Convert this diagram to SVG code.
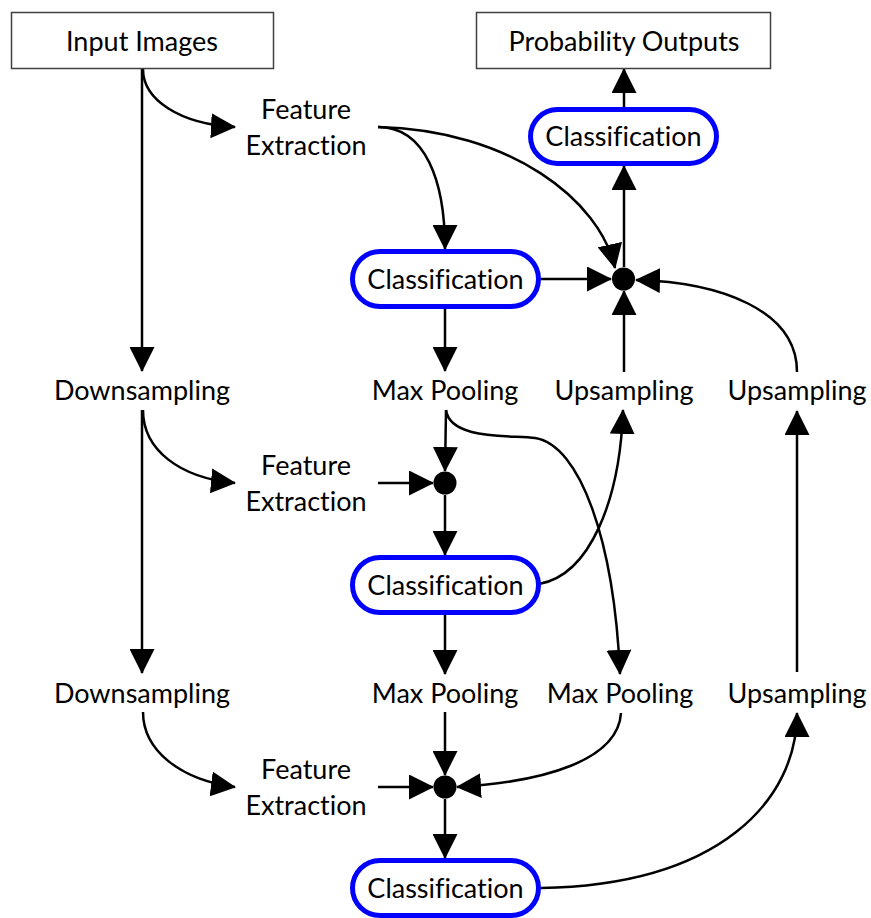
<svg xmlns="http://www.w3.org/2000/svg" width="871" height="918" viewBox="0 0 871 918">
  <style>
    .lbl { font-family: Lato, "Liberation Sans", sans-serif; font-size: 27px; fill: #000; text-anchor: middle; font-variant-ligatures: none; }
    .box { fill: #fff; stroke: #404040; stroke-width: 1.5; }
    .cls { fill: #fff; stroke: #0000ff; stroke-width: 5; }
    .dot { fill: #000; }
    .edge { fill: none; stroke: #000; stroke-width: 2.5; marker-end: url(#ah); }
  </style>
  <defs>
    <marker id="ah" viewBox="0 0 25 25" refX="24" refY="12.5" markerWidth="25" markerHeight="25" markerUnits="userSpaceOnUse" orient="auto">
      <path d="M0,0 L25,12.5 L0,25 z" fill="#000"/>
    </marker>
  </defs>

  <!-- connectors -->
  <g id="connectors">
    <path class="edge" d="M142 69 L142 371"/>
    <path class="edge" d="M143 69 C143 100 180 124 235 127"/>
    <path class="edge" d="M378 127 C425 127 445 180 445 249"/>
    <path class="edge" d="M378 127 C510 130 600 200 615 268"/>
    <path class="edge" d="M541 279 L611 279"/>
    <path class="edge" d="M624 372 L624 291"/>
    <path class="edge" d="M797 372 C797 310 720 282 636 280"/>
    <path class="edge" d="M624 267 L624 166"/>
    <path class="edge" d="M624 107 L624 69"/>
    <path class="edge" d="M445 309 L445 371"/>
    <path class="edge" d="M142 410 L142 673"/>
    <path class="edge" d="M143 410 C143 450 180 478 235 483"/>
    <path class="edge" d="M378 483 L433 483"/>
    <path class="edge" d="M446 410 L445 471"/>
    <path class="edge" d="M446 410 C450 440 510 435 535 438 C580 445 614 540 620 674"/>
    <path class="edge" d="M445 495 L445 555"/>
    <path class="edge" d="M539 584 C590 575 620 500 623 410"/>
    <path class="edge" d="M445 615 L445 674"/>
    <path class="edge" d="M143 712 C143 750 180 780 235 787"/>
    <path class="edge" d="M378 787 L433 787"/>
    <path class="edge" d="M445 712 L445 775"/>
    <path class="edge" d="M621 713 C618 760 545 782 457 787"/>
    <path class="edge" d="M445 799 L445 858"/>
    <path class="edge" d="M541 888 C720 885 797 800 797 713"/>
    <path class="edge" d="M797 672 L797 411"/>
  </g>

  <g id="input-images">
    <rect class="box" x="11.5" y="12.5" width="262" height="56"/>
    <text class="lbl" x="142" y="51">Input Images</text>
  </g>
  <g id="probability-outputs">
    <rect class="box" x="476.5" y="12.5" width="294" height="56"/>
    <text class="lbl" x="624" y="51">Probability Outputs</text>
  </g>

  <g id="feature-extraction-1">
    <text class="lbl" x="306" y="119">Feature</text>
    <text class="lbl" x="306" y="155">Extraction</text>
  </g>
  <g id="feature-extraction-2">
    <text class="lbl" x="306" y="475">Feature</text>
    <text class="lbl" x="306" y="511">Extraction</text>
  </g>
  <g id="feature-extraction-3">
    <text class="lbl" x="306" y="779">Feature</text>
    <text class="lbl" x="306" y="815">Extraction</text>
  </g>

  <g id="classification-top">
    <rect class="cls" x="530.5" y="109.5" width="186" height="54" rx="27"/>
    <text class="lbl" x="623.5" y="146">Classification</text>
  </g>
  <g id="classification-1">
    <rect class="cls" x="352.5" y="251.5" width="186" height="55" rx="27.5"/>
    <text class="lbl" x="445.5" y="288.5">Classification</text>
  </g>
  <g id="classification-2">
    <rect class="cls" x="352.5" y="557.5" width="186" height="55" rx="27.5"/>
    <text class="lbl" x="445.5" y="594.5">Classification</text>
  </g>
  <g id="classification-3">
    <rect class="cls" x="352.5" y="860.5" width="186" height="55" rx="27.5"/>
    <text class="lbl" x="445.5" y="897.5">Classification</text>
  </g>

  <g id="junction-1"><circle class="dot" cx="623.5" cy="279" r="11.5"/></g>
  <g id="junction-2"><circle class="dot" cx="445" cy="483" r="11.5"/></g>
  <g id="junction-3"><circle class="dot" cx="445" cy="787" r="11.5"/></g>

  <g id="downsampling-1"><text class="lbl" x="142" y="400">Downsampling</text></g>
  <g id="max-pooling-1"><text class="lbl" x="445" y="400">Max Pooling</text></g>
  <g id="upsampling-1"><text class="lbl" x="624" y="400">Upsampling</text></g>
  <g id="upsampling-2"><text class="lbl" x="797" y="400">Upsampling</text></g>

  <g id="downsampling-2"><text class="lbl" x="142" y="703">Downsampling</text></g>
  <g id="max-pooling-2"><text class="lbl" x="445" y="703">Max Pooling</text></g>
  <g id="max-pooling-3"><text class="lbl" x="620" y="703">Max Pooling</text></g>
  <g id="upsampling-3"><text class="lbl" x="797" y="703">Upsampling</text></g>
</svg>
